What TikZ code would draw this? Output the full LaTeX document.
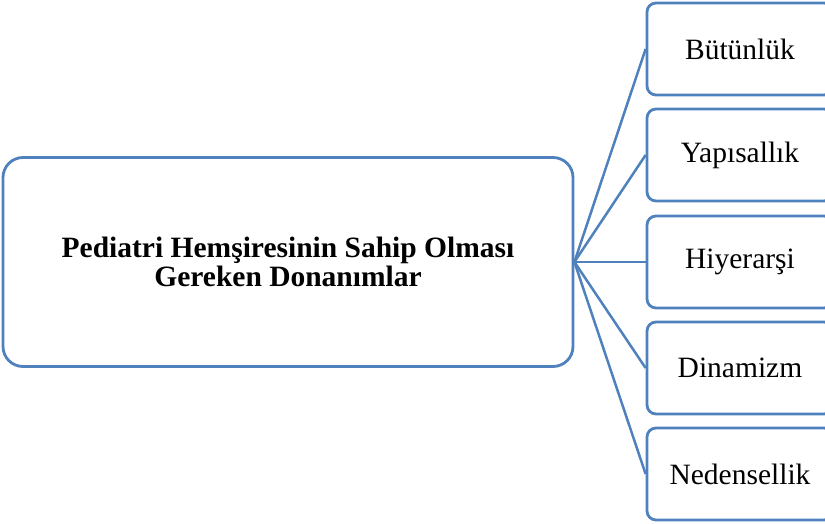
\documentclass[tikz,border=0pt]{standalone}
\usepackage{fontspec}
\setmainfont{Liberation Serif}
\definecolor{linkblue}{HTML}{4F81BD}
\begin{document}
\begin{tikzpicture}[x=1pt,y=-1pt]
\tikzset{
  topicbox/.style={draw=linkblue, line width=2.8pt, rounded corners=20pt, fill=white,
    minimum width=570pt, minimum height=209pt, align=center, inner sep=0pt,
    font=\fontsize{29.5}{29}\selectfont\bfseries},
  itembox/.style={draw=linkblue, line width=2.8pt, rounded corners=9pt, fill=white,
    minimum width=186pt, minimum height=92pt, inner sep=0pt,
    font=\fontsize{29.5}{29}\selectfont},
  link/.style={draw=linkblue, line width=2.5pt}
}
\useasboundingbox (0,0) rectangle (825,524);
\clip (0,0) rectangle (825,524);

% central topic
\node[topicbox] (main) at (288,262) {Pediatri Hemşiresinin Sahip Olması\\Gereken Donanımlar};

% right-hand items
\node[itembox] (b1) at (740,49)  {Bütünlük};
\node[itembox] (b2) at (740,155) {Yapısallık};
\node[itembox] (b3) at (740,262) {Hiyerarşi};
\node[itembox] (b4) at (740,368) {Dinamizm};
\node[itembox] (b5) at (740,474) {Nedensellik};

% connectors
\foreach \b in {b1,b2,b3,b4,b5}
  \draw[link] (main.east) -- (\b.west);
\end{tikzpicture}
\end{document}
